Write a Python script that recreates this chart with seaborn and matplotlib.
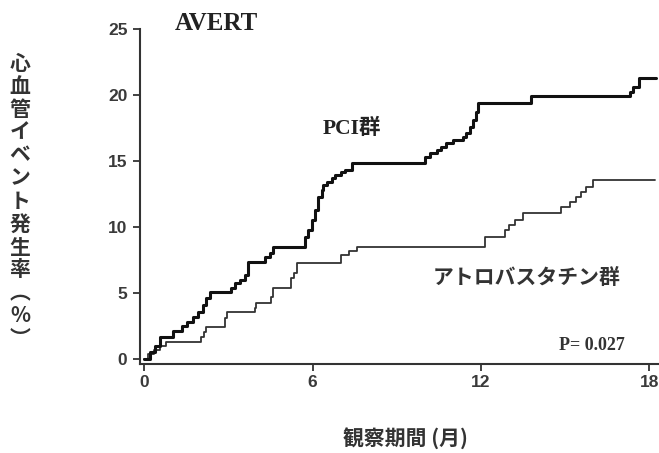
import matplotlib
matplotlib.use("Agg")
import matplotlib.pyplot as plt
import seaborn as sns
import pandas as pd

# ---- data (months, cumulative event rate %) ----
pci_months = [0, 0.2, 0.4, 0.56, 1.03, 1.33, 1.51, 1.74, 1.92, 2.10, 2.22, 2.34,
              3.11, 3.23, 3.40, 3.58, 3.70, 4.29, 4.47, 4.59, 5.72, 5.85, 5.97,
              6.09, 6.20, 6.32, 6.38, 6.50, 6.68, 6.80, 7.03, 7.15, 7.39, 10.0,
              10.18, 10.42, 10.59, 10.77, 11.0, 11.36, 11.48, 11.6, 11.72, 11.82,
              11.9, 13.8, 17.3, 17.41, 17.65, 18.25]
pci_rate = [0, 0.5, 1.0, 1.69, 2.15, 2.50, 2.83, 3.21, 3.59, 4.09, 4.60, 5.10,
            5.36, 5.73, 5.98, 6.36, 7.37, 7.75, 8.01, 8.51, 9.27, 9.77, 10.53,
            11.29, 12.30, 12.80, 13.18, 13.43, 13.69, 13.94, 14.19, 14.32, 14.82, 15.33,
            15.58, 15.83, 16.09, 16.34, 16.60, 16.85, 17.10, 17.60, 18.10, 18.70,
            19.37, 19.92, 20.25, 20.63, 21.26, 21.26]

ator_months = [0, 0.15, 0.35, 0.56, 0.79, 2.04, 2.12, 2.20, 2.87, 2.95, 3.94, 4.0,
               4.53, 4.60, 5.24, 5.33, 5.43, 7.03, 7.30, 7.57, 12.14, 12.85, 13.0,
               13.2, 13.5, 14.86, 15.16, 15.4, 15.58, 15.75, 15.99, 18.2]
ator_rate = [0, 0.4, 0.7, 1.0, 1.31, 1.69, 2.07, 2.45, 3.08, 3.59, 3.84, 4.22,
             4.72, 5.35, 6.11, 6.49, 7.30, 7.90, 8.20, 8.51, 9.27, 9.77, 10.15,
             10.53, 11.04, 11.54, 11.92, 12.30, 12.68, 13.05, 13.56, 13.56]

x_ticks = [0, 6, 12, 18]
y_ticks = [0, 5, 10, 15, 20, 25]

ylabel_chars = ["心", "血", "管", "イ", "ベ", "ン", "ト", "発", "生", "率", "︵", "%", "︶"]

sns.set_style("ticks")
plt.rcParams["font.family"] = ["Noto Sans CJK JP", "DejaVu Sans"]

W, H = 659, 453
fig = plt.figure(figsize=(W / 100, H / 100), dpi=100)
ax = fig.add_axes([140 / W, 89 / H, 519 / W, 335 / H])

pci_df = pd.DataFrame({"month": pci_months, "rate": pci_rate})
ator_df = pd.DataFrame({"month": ator_months, "rate": ator_rate})

sns.lineplot(data=ator_df, x="month", y="rate", ax=ax, color="#333333",
             linewidth=1.3, drawstyle="steps-post", estimator=None)
sns.lineplot(data=pci_df, x="month", y="rate", ax=ax, color="#111111",
             linewidth=2.2, drawstyle="steps-post", estimator=None)

ax.set_xlim(-0.15, 18.35)
ax.set_ylim(-0.38, 25)
ax.set_xticks(x_ticks)
ax.set_yticks(y_ticks)
ax.set_xlabel("")
ax.set_ylabel("")
for s in ["top", "right"]:
    ax.spines[s].set_visible(False)
for s in ["left", "bottom"]:
    ax.spines[s].set_linewidth(1.5)
    ax.spines[s].set_color("#333333")
ax.tick_params(axis="both", direction="out", length=5, width=1.3, color="#333333",
               labelsize=12.5, labelcolor="#3a3a3a")
ax.tick_params(axis="y", pad=4)
ax.tick_params(axis="x", pad=3)
for lab in ax.get_xticklabels() + ax.get_yticklabels():
    lab.set_family(["Liberation Sans", "DejaVu Sans"])
    lab.set_fontweight("bold")

# titles / annotations
fig.text(216 / W, 1 - 24 / H, "AVERT", ha="center", va="center",
         family=["Liberation Serif", "DejaVu Serif"], fontweight="bold",
         fontsize=18, color="#222222")
fig.text(352 / W, 1 - 129 / H, "PCI群", ha="center", va="center",
         family=["Liberation Serif", "Noto Sans CJK JP"], fontweight="bold",
         fontsize=15.5, color="#222222")
fig.text(527 / W, 1 - 277 / H, "アトロバスタチン群", ha="center", va="center",
         fontweight="bold", fontsize=15, color="#333333")
fig.text(592 / W, 1 - 345 / H, "P= 0.027", ha="center", va="center",
         family=["Liberation Serif", "DejaVu Serif"], fontweight="bold",
         fontsize=13, color="#333333")
fig.text(405 / W, 1 - 438 / H, "観察期間 (月)", ha="center", va="center",
         fontweight="bold", fontsize=15, color="#333333")

y0 = 63
step = 23.0
for i, ch in enumerate(ylabel_chars):
    fig.text(20 / W, 1 - (y0 + i * step) / H, ch, ha="center", va="center",
             fontweight="bold", fontsize=15, color="#333333")

fig.savefig("out.png", dpi=100)
